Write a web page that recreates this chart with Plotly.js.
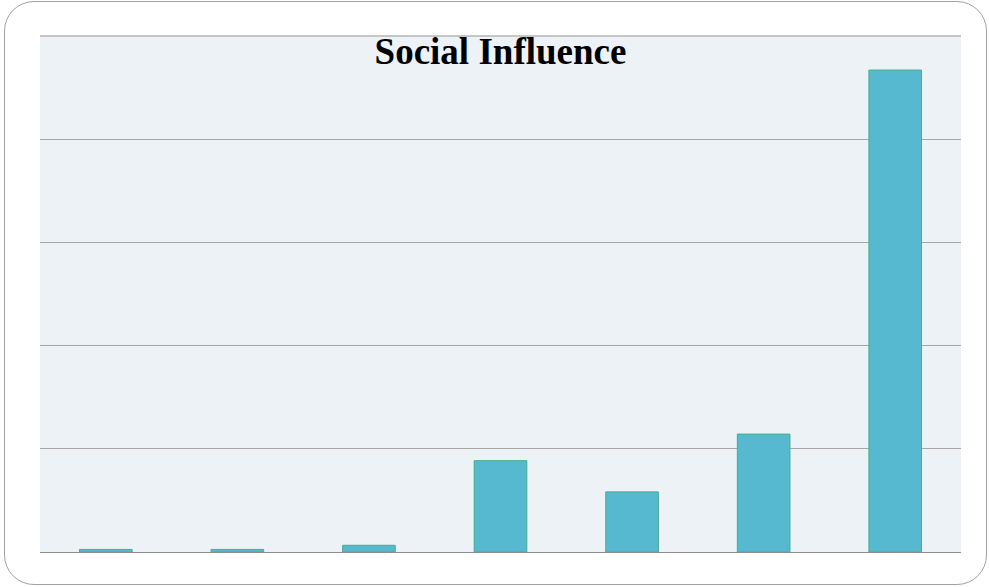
<!DOCTYPE html>
<html>
<head>
<meta charset="utf-8">
<script src="https://cdn.plot.ly/plotly-3.0.1.min.js"></script>
<style>
  html, body { margin: 0; padding: 0; background: #ffffff; }
  #frame { position: absolute; left: 4px; top: 1px; width: 983px; height: 584px;
           border: 1.3px solid #a0a0a0; border-radius: 30px; box-sizing: border-box; }
  #chart { position: absolute; left: 0; top: 0; width: 989px; height: 587px; }
</style>
</head>
<body>
<div id="frame"></div>
<div id="chart"></div>
<script>
const categories = ["1", "2", "3", "4", "5", "6", "7"];
const values = [0.5, 0.5, 1.3, 17.7, 11.65, 22.85, 93.4];
const chartTitle = "Social Influence";

Plotly.newPlot("chart", [{
  type: "bar",
  x: categories,
  y: values,
  marker: { color: "#57b9d0", line: { color: "#45ae8e", width: 1 } },
  hoverinfo: "none"
}], {
  width: 989,
  height: 587,
  margin: { l: 40, r: 28, t: 36, b: 35, pad: 0 },
  paper_bgcolor: "rgba(0,0,0,0)",
  plot_bgcolor: "#edf2f7",
  bargap: 0.6,
  showlegend: false,
  title: {
    text: "<b>" + chartTitle + "</b>",
    font: { family: "Liberation Serif, Times New Roman, serif", size: 37, color: "#000000" },
    x: 0.5, xref: "paper", xanchor: "center",
    y: 0.935, yref: "container", yanchor: "top"
  },
  shapes: [{
    type: "line", xref: "paper", yref: "paper",
    x0: 0, x1: 1, y0: 1, y1: 1,
    line: { color: "#b4b4b4", width: 1.5 }, layer: "below"
  }],
  xaxis: {
    type: "category",
    showticklabels: false,
    showgrid: false,
    showline: true,
    linecolor: "#8c8c8c",
    linewidth: 1.2,
    ticks: "",
    zeroline: false
  },
  yaxis: {
    range: [0, 100],
    dtick: 20,
    showticklabels: false,
    showgrid: true,
    gridcolor: "#a6a6a6",
    gridwidth: 1,
    zeroline: false,
    ticks: "",
    showline: false
  }
}, { displayModeBar: false, staticPlot: true });
</script>
</body>
</html>
